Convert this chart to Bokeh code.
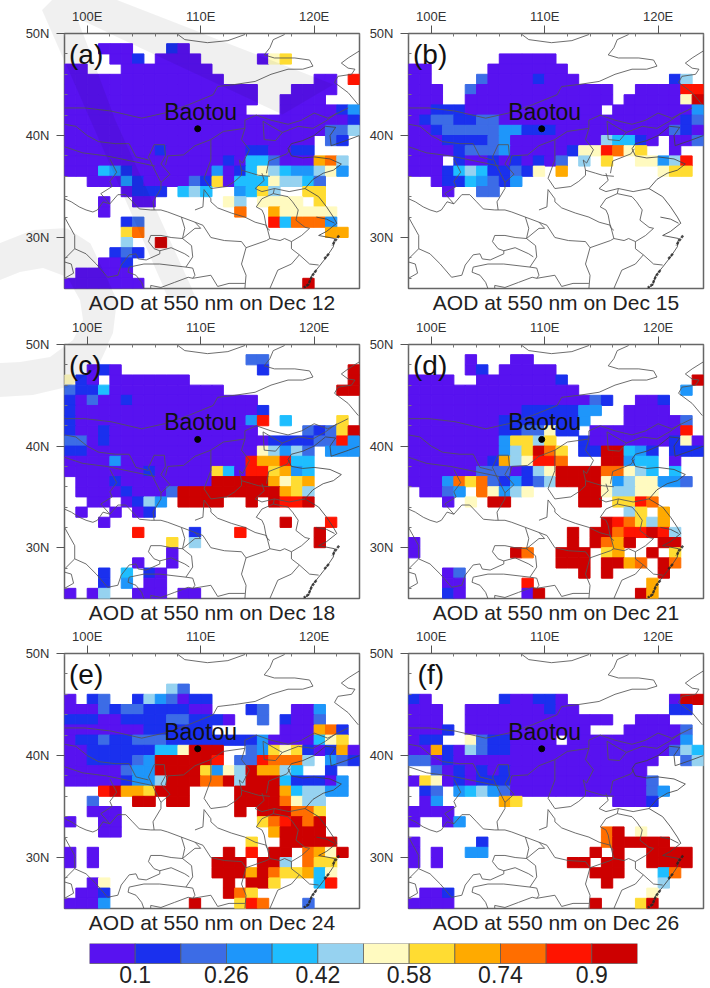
from urllib.parse import quote
from bokeh.plotting import figure
from bokeh.layouts import column, row
from bokeh.models import FixedTicker, Label, PolyAnnotation, ColumnDataSource
from bokeh.embed import file_html
from bokeh.resources import INLINE

FONT = "Liberation Sans"
LEVELS = [0.06, 0.14, 0.22, 0.30, 0.38, 0.46, 0.54, 0.62, 0.70, 0.78, 0.86, 0.94]
EDGES = [0.02, 0.1, 0.18, 0.26, 0.34, 0.42, 0.5, 0.58, 0.66, 0.74, 0.82, 0.9, 0.98]
COLORS = ["#5812f0", "#1a30ee", "#3c6ce6", "#1e96fa", "#1ebeff", "#96d2f0",
          "#fffac0", "#ffdc32", "#ffaa00", "#ff6e00", "#ff1400", "#cd0000"]
CODES = "ABCDEFGHIJKL"
CB_TICKS = [0.1, 0.26, 0.42, 0.58, 0.74, 0.9]
CB_LABELS = ["0.1", "0.26", "0.42", "0.58", "0.74", "0.9"]
LON_MIN, LON_MAX, LAT_MIN, LAT_MAX = 98, 124, 25, 50
BAOTOU_LON, BAOTOU_LAT = 109.74, 40.66

# Each row runs north to south from 50N, one row per degree. "3-5A" = columns 3..5 (from 98E) at level A.
PANEL_A = ["", "3-5A 9B 10A", "4-5A 6B 8-11A 17A 18G 19H", "0-1A 5-12A", "0-13A 22-23A 25K",
           "0-16A 20-23A", "0-16A 19-22A", "0-15A 19-23A 24B 25D", "0-24A 25B", "0-22A 23-24C 25F",
           "0-21A 23C 24B", "0-7A 8B 9-15A 16-17B 18-19A 20-21B",
           "0-13A 14B 15A 16-17E 18C 19-21A 22I 23J 24F",
           "0-2A 3E 4D 5B 6-12A 13D 14A 15B 16E 17G 18F 19E 20-21D 22F 23G 24D",
           "2-4A 5D 6B 7-10A 11C 12B 13H 14A 15-17E 18G 19-20F 21E 22C",
           "5A 6-8B 10E 11F 12E 15D 16E 17H 18F 21-22H", "3A 6-7A 14G 15F 17-20G 22H",
           "3A 15J 18I 19-23G", "5B 6C 18K 19E 20-22J 23D", "5H 6J 23-24I", "5F 8L", "4B 5C 6B",
           "3-4A 5B", "1-5A", "0-6A 21L"]
PANEL_B = ["", "", "8-12A", "0-1A 7-13A", "0-1A 6C 7-10A 11B 12-14A 23B 24F",
           "0-2A 5C 6-17A 20-23A 24-25K", "0-2A 5-17A 19-23A 24G 25L",
           "0-1A 2-4B 5-16A 18-24A 25D", "0A 1B 2-3C 4-5B 6-7C 8-23A 24B 25C",
           "0-1A 2B 3-7C 8-9D 10-12B 13-22A 23C 24B 25A",
           "0-2A 3-6B 7C 8D 9-16A 17F 18-19E 20B 21A 23-24A 25C",
           "0-3A 4B 5-7C 8D 9-13A 14B 15-16G 17K 18J 19G 20H 23A",
           "0-2A 4B 5-6A 7B 8A 9B 10A 11B 12A 13C 15F 17H 20-21G 22D 23F 24K",
           "0-2A 3B 4E 5F 6E 7-8B 9C 10B 11G 13I 22G 23-24H", "2A 3-4B 5E 6D 7C 8B 9D",
           "3A 6-7C", "", "", "", "", "", "", "", "", ""]
PANEL_C = ["", "16-17C", "2A 3B 4A 17B 25L", "0G 1B 2A 4-10A 25L", "0C 1-2B 3E 4-13A 24-25L",
           "0B 1A 2C 3-4A 5B 6-16A", "0B 1-16A 17B", "0B 1-15A 16D 17K 19E 24H",
           "0B 1-2A 3B 4-16A 21C 22B 23C 24H 25L", "0-1C 2A 3B 4-17A 18-21B 22-23C 24K 25D",
           "0-1B 2-16A 17G 18F 19D 20F 21C 23-25D", "0-3A 4D 5-15A 16K 17-18I 19K 20-21E",
           "0-6A 7B 8-12A 13H 14E 15A 16-17K 18H 19I 20D 21E",
           "1-3A 4B 5-12A 13-17L 18I 19G 20H 21I", "1-4A 5B 6-8A 9C 10-18L 19I 20H 21F",
           "2-3A 5A 6B 7F 8D 10-13L 16L 18L 19-20K 21L", "1A 4A 6A 7B", "3A 19L 23K",
           "6K 11B 15K 22L", "9H 11F 22L", "9A", "6A 9A", "3B 5E 7B 8A", "3B 5D 7-8A",
           "0A 2A 3F 6-8A 10-11A"]
PANEL_D = ["", "5A 9-10A", "5A 6B 8-12A", "0-3A 6-12A 13B 25L", "0-14A 24D",
           "0-15A 16C 17B 20-21A 22B", "0-9A 10-14B 15-16D 19-22A", "0-7A 8-14B 15D 19-23A 24C",
           "0-7A 8-9B 10-11C 12G 13-14B 16-23A 24K", "0-7A 8D 9-10H 11F 12H 15B 16-22A 23B 24G 25A",
           "0-7A 8D 9F 10H 11L 12J 13H 15-16B 17-18L 19E 20D 21B 23-25B",
           "0-6A 7B 8I 9F 10G 11-12K 13J 17-18L 19D 20-21E 23A",
           "0-5A 6-8C 9A 10B 11F 12G 13-16L 17-18J 19G 20F 21E 23E",
           "0-2A 3D 4J 5H 6J 7C 8B 9D 10B 11C 12F 13-16L 17G 18D 19F 20-21G 22-23D 24C",
           "1-2A 3C 4D 6J 7G 8D 9F 10G 15-16L 17G 18-19F 20-21G", "3A 5G 7-8L 15-16L 18-19H 20K 21J",
           "19F 20H 22I", "17L 18K 19J 20H 21F 22I", "14L 16-17L 18J 19-20K 21L 22K 23F",
           "0A 14L 16L 17J 18I 19L 22-23L", "0A 9L 10J 13-15L 17H 18I 21L 23H",
           "13-15L 17-18L 19I 20J 22L 23J", "3A 4C 15L 17L 22L", "3-4A 10K 21I", "3B 4A 10A 11L 20L 21I"]
PANEL_E = ["", "", "", "9F 10C", "0A 2B 3C 6B 7F 8D 9C 10A 11-12B",
           "0-2A 3C 4B 5-6C 7-10B 11-12A 16B 17C 20-21A 22D",
           "0-2B 3-4A 5-8B 9-10C 11-13B 14A 17C 19B 20-21A 22C",
           "0-6A 7-12B 19-21A 22I 23J 24B", "0A 1-2B 3C 4-5B 6-8C 9-16B 17D 18-21A 22E 23G 24H",
           "0-1A 2-7B 8-9E 10G 11-13L 16C 17D 18H 19G 20H 21B 22A 23B 24I 25A",
           "0-1A 2-5B 6C 7D 8-12L 13K 15-16C 17K 18-20J 21F 23D 24C 25B",
           "0-4A 5C 6-7D 8-11L 12H 13D 14G 15F 16L 17-18I 19F 20E 23B",
           "0-4A 5B 6-7D 8F 9-11L 12-13J 14L 15F 16-18L 19E 20-22B 23A 24D",
           "3K 4L 5-6I 7H 8-10L 15-18L 19I 20E 21-22F 23-24D", "2C 6-7L 9-10L 15-18L 19J 20G 21-22F",
           "2-4A 15L 17-19L 20-21J 22H", "0A 3-4A 17H 18J 19K 20L 21J 22L", "3-4A 18I 19-22L",
           "16H 19-23L", "0A 2A 14L 16K 18-19L 21J 22I 23G 24L",
           "0A 2A 13-15L 17-18L 19F 21J 22-23H", "13-15L 16I 17L 18J 19-20H 21I 22E 23G",
           "2A 3G 14L 16-17L 18H 22E 23K", "1-2A 3B 14L 15J 16H", "0-2A 3D 11L 15H 16K 17J 21C"]
PANEL_F = ["", "", "", "", "0B 1A 8B 9-10A 11-12B 13A 23A 24-25L", "0-2A 5-11A 12B 13-14A 23-24B",
           "0-2A 5-17A 20-22A", "0-2A 3B 5-15A 19-23A 24C", "0A 1-2B 5G 6C 7-8B 9-12A 14-23A 24D",
           "0-1A 2I 3B 4A 5F 6C 7-8B 9-22A 23C 24F 25E", "0-1C 2A 3B 4-21A 24C 25F",
           "2C 3A 4B 5A 6B 7A 8B 9-20A", "0A 1H 2G 3A 4B 5A 6-8B 9-20A 21C",
           "1B 2C 4D 5E 6F 7D 8C 9-20A 21C 22D", "1A 2D 8I 9H 18-20A 21B", "0-3A", "0A 3A 4D",
           "17J 18L 20G", "0A 6B 17J 18-22L", "0A 2A 5-6D 16L 18L 21-24L",
           "0A 2A 14-15L 17-18L 21-24L", "16-18L 22E 23J", "17L 22F", "1-2A 3B 21G", "0-3A 16L 20H 21L"]
PANELS = [PANEL_A, PANEL_B, PANEL_C, PANEL_D, PANEL_E, PANEL_F]
LETTERS = ["(a)", "(b)", "(c)", "(d)", "(e)", "(f)"]
DATES = ["Dec 12", "Dec 15", "Dec 18", "Dec 21", "Dec 24", "Dec 26"]

# Map outlines, (lon, lat)
MAP_LINES = [
    [(108,49.9),(108.6,49.4),(110.6,49.1),(112.4,49.3),(113.9,49.9)],
    [(117.4,49.9),(116.4,49.4),(116.1,48.6),(115.6,47.9),(116.5,47.6),(118.3,47.6),(119.6,47.4),(119.9,46.8),(119,46.5),
     (117.7,46.5),(116.2,46),(114.8,45.3),(113,45),(111.5,44.8),(111.1,44),(108.9,43),(106.8,42.2),(104.8,41.7),(102.1,42.4),
     (99.8,42.7),(98,42.7)],
    [(124,48.3),(123,47.6),(122.4,47.1),(123,46.6),(123.6,46.5),(123.3,46),(122.1,45.8),(121.8,45.2),(123,44.2),(123.9,43)],
    [(113.9,41.5),(114.9,42),(116.2,41.5),(117.7,41.1),(118.9,41.5),(120,42.2),(121.2,41.7),(123,42.7)],
    [(113.9,41.5),(113.9,40.7),(113.6,39.6),(114.3,38.6),(113.7,37.3),(113.4,37.6),(113.6,36.6),(113.6,36.1),(113,35.5),
     (112.3,35),(110.9,34.8),(110.3,35.8),(110.9,37.6),(110.9,39.6),(112,40.4),(113.9,40.7)],
    [(115.5,41.4),(116.4,40.8),(117.2,40.3),(116.6,39.5),(115.6,39.6),(115.5,41.4)],
    [(117.2,40.3),(118.6,40.9),(119.9,40.7),(121,41.4),(122,42.2)],
    [(110.9,39.6),(109.5,39),(108.5,38.1),(107.1,38),(106.9,37.1)],
    [(105.9,39.1),(106.8,39.1),(106.9,38),(106.5,37.2),(107.3,36.2),(106.5,35.4),(106,36.5),(105.4,37.9),(105.9,39.1)],
    [(98,41.1),(99,40.9),(100,40),(101,39.4),(102.5,39.2),(103.7,39.2),(104.3,37.9),(105.4,37.6)],
    [(98,38.9),(99.6,38.3),(101.7,38),(104.3,37.4),(106,37)],
    [(102,35.5),(102.6,36.4),(102,37.7)],
    [(98,33.8),(98.6,33.5),(99.3,33),(99.9,32.7),(100.5,32.5),(100.9,32.7),(101.4,33.5),(102,33.3),(102.7,34.2),(103.4,34.2),
     (104,33.5),(104.6,32.8),(105.6,32.7),(106.5,32.7),(107.1,32.5),(108.3,32),(109.5,31.5),(110.2,31.2)],
    [(106.5,35.4),(106.5,34.8),(105.8,33.5),(105.9,32.7)],
    [(102,33.3),(101.2,34.3),(102.2,35),(102,35.5)],
    [(108.3,32),(108.6,30.9),(108.4,29.9),(109.2,29.2),(109.3,28.1),(108.7,27.1),(109.3,27),(109.5,26.3),(109.3,26)],
    [(109.5,31.5),(110,30.9),(109.5,30.9),(108.4,29.9)],
    [(108.4,29.9),(107.4,30),(106.5,30.2),(105.6,30.2),(105.4,29.6),(105.9,28.9),(106.4,28.7),(107.4,29),(108.6,28.4),(109,28.1)],
    [(98,32),(98.4,31.2),(98.9,30.2),(98.9,28.9),(99.9,28.4),(100.8,27.4),(101.8,26.1),(102.7,26.3),(103,27.3),(103.7,28.3),
     (104.3,28.4),(104.5,27.9),(105.2,27.8),(106.4,28.4),(106.4,28.7)],
    [(98,27.6),(98.6,27.4),(98.8,26.5),(98,26)],
    [(98.9,28.9),(98,27.9)],
    [(103.7,27.1),(103.6,26.6),(104.3,26.3),(104.8,25.6),(105,25)],
    [(103.7,27.1),(105,27.4),(106.4,27.4),(108.7,27.1)],
    [(105.6,25),(105.6,25.3),(106.5,25.1),(107.7,25.6),(108.9,26.1),(109.3,26),(110.9,26.3),(111.5,25.2),(112.5,25.5),(113.9,25.5)],
    [(109.5,32.7),(110.2,33),(110.3,34.7),(110.9,33.8),(110.9,33.5),(111.5,32.9),(112.7,32.4),(113.9,32),(114.8,31.5),(115.8,31.2),
     (116.1,29.9)],
    [(113.6,36.6),(114.5,36.3),(115.1,36.1),(116.1,36)],
    [(115.4,36.3),(115.6,35.6),(114.8,34.8),(115.4,34.5),(116.5,34.8),(116.4,34.3),(117.7,34),(118.1,33.5),(118.6,32.7),(118.4,31.7),
     (119.2,31),(119.6,30.9)],
    [(116.5,34.8),(117.8,34.5),(119.2,34.8)],
    [(116.4,34.3),(115.4,33.8),(114.9,33),(115.4,32.7),(115.6,32.2),(115.8,31),(116.1,30.7)],
    [(116.1,29.9),(117,29.7),(117.4,29.9),(118,29.6),(118.9,30.2),(119.6,30.9)],
    [(110.2,31.2),(110.9,30),(112.1,29.7),(113.6,29.6),(114,29),(115.8,29.7),(116.1,29.9)],
    [(114,29),(113.6,27.4),(114,26.3),(113.9,25)],
    [(118,29.6),(118,28.9),(118.7,28.3),(119.6,27.4),(120.4,27.3)],
    [(116.1,25),(116.8,26.8),(118,27.4),(118.7,28.3)],
    [(115.8,36.3),(116,37.5),(117.6,38.2),(117.9,38.7)],
]
COAST_LINES = [
    [(124,40),(122.8,39.5),(121.5,39),(121.4,40),(121.9,40.8),(121,40.9),(120,40),(119,39.5),(118,39.2),(117.7,38.7),(118,38),
     (119,37.8),(120,37.9),(121.4,37.7),(122.4,37.2),(121.7,36.6),(120.8,36.3),(119.9,35.7),(119.2,34.8),(120.4,34),(121.1,33),
     (121.7,32),(122,31.4),(121.1,30.6),(120.4,30.2),(121.8,29.9),(121.7,29.1),(121.1,28.1),(120.4,27.1),(119.8,26.3),(119.5,25.3),(119,25)],
    [(120.2,32),(121.1,31.8),(121.8,31.4)],
]
COAST_DARK = [
    [(122.2,30.2),(121.8,29.6),(121.6,29.2)],
    [(121.3,28.4),(120.9,27.9)],
    [(120.2,26.8),(119.8,26.2),(119.5,25.4),(119.1,25.1)],
]

# Decoration over the whole page: the pale swoosh, in page pixels.
SWOOSH_A = [(42,10),(52,0),(117,0),(333,84),(282,114),(77,18),(115,120),(196,298),(168,298)]
SWOOSH_B = [(0,243),(33,230),(67,228),(90,243),(117,300),(113,333),(97,367),(67,387),(33,395),(0,397),
            (0,363),(20,362),(50,357),(73,340),(83,320),(80,300),(67,277),(43,268),(20,272),(0,280)]


def parse_panel(rows):
    left, right, top, bottom, val, col = [], [], [], [], [], []
    for r, txt in enumerate(rows):
        for tok in txt.split():
            code = tok[-1]
            span = tok[:-1].split("-")
            c0, c1 = int(span[0]), int(span[-1])
            idx = CODES.index(code)
            for c in range(c0, c1 + 1):
                left.append(LON_MIN + c); right.append(LON_MIN + c + 1)
                top.append(LAT_MAX - r); bottom.append(LAT_MAX - r - 1)
                val.append(LEVELS[idx]); col.append(COLORS[idx])
    return ColumnDataSource(dict(left=left, right=right, top=top, bottom=bottom, aod=val, color=col))


def add_swoosh(p, fx, fy):
    for poly in (SWOOSH_A, SWOOSH_B):
        p.add_layout(PolyAnnotation(xs=[x - fx for x, y in poly], ys=[y - fy for x, y in poly],
                                    xs_units="canvas", ys_units="canvas", fill_color="black", fill_alpha=0.06,
                                    line_color=None, level="overlay"))


def panel(i, width, height, bl, br, bt, bb, fx, fy):
    p = figure(width=width, height=height, x_range=(LON_MIN, LON_MAX), y_range=(LAT_MIN, LAT_MAX),
               min_border_left=bl, min_border_right=br, min_border_top=bt, min_border_bottom=bb,
               x_axis_location="above", y_axis_location="left", toolbar_location=None, tools="",
               output_backend="svg", title=f"AOD at 550 nm on {DATES[i]}", title_location="below",
               outline_line_color="#666666", outline_line_width=1.5, border_fill_color=None,
               background_fill_color="white")
    p.title.align = "center"
    p.title.text_font = FONT
    p.title.text_font_size = "21px"
    p.title.text_font_style = "normal"
    p.title.text_color = "#222222"
    p.title.standoff = 0
    p.grid.visible = False
    p.quad(left="left", right="right", top="top", bottom="bottom", fill_color="color", line_color="color",
           line_width=1, source=parse_panel(PANELS[i]))
    for ln in MAP_LINES:
        p.line([a for a, b in ln], [b for a, b in ln], line_color="#555555", line_width=1, line_alpha=0.85)
    for ln in COAST_LINES:
        p.line([a for a, b in ln], [b for a, b in ln], line_color="#444444", line_width=1, line_alpha=0.85)
    for ln in COAST_DARK:
        p.line([a for a, b in ln], [b for a, b in ln], line_color="#222222", line_width=2.4, line_alpha=0.8, line_dash="3 1")
    p.scatter([BAOTOU_LON], [BAOTOU_LAT], size=6, color="black")
    p.add_layout(Label(x=110, y=42.33, text="Baotou", text_align="center", text_baseline="middle",
                       text_font=FONT, text_font_size="23px", text_color="#111111"))
    lx = 98.8 if i == 5 else 98.4
    p.add_layout(Label(x=lx, y=47.9, text=LETTERS[i], text_align="left", text_baseline="middle",
                       text_font=FONT, text_font_size="28px", text_color="#111111"))
    xa, ya = p.xaxis[0], p.yaxis[0]
    xa.ticker = FixedTicker(ticks=[100, 110, 120], minor_ticks=[98, 102, 104, 106, 108, 112, 114, 116, 118, 122, 124])
    ya.ticker = FixedTicker(ticks=[30, 40, 50], minor_ticks=[26, 28, 32, 34, 36, 38, 42, 44, 46, 48])
    xa.major_label_overrides = {100: "100E", 110: "110E", 120: "120E"}
    ya.major_label_overrides = {30: "30N", 40: "40N", 50: "50N"}
    for ax, st in ((xa, 2), (ya, 7)):
        ax.axis_line_color = None
        ax.major_tick_out = 8; ax.major_tick_in = 0
        ax.minor_tick_out = 0; ax.minor_tick_in = 3
        ax.major_tick_line_color = "#555555"; ax.minor_tick_line_color = "#777777"
        ax.major_label_text_font = FONT
        ax.major_label_text_font_size = "13px"
        ax.major_label_text_color = "#333333"
        ax.major_label_standoff = st
    ya.major_label_orientation = "horizontal"
    add_swoosh(p, fx, fy)
    return p


# figure widths/heights and borders
LW, RW = 362, 348
a = panel(0, LW, 315, 64, 3, 33, 27, 0, 0)
b = panel(1, RW, 315, 46, 7, 33, 27, 362, 0)
c = panel(2, LW, 310, 64, 3, 29, 27, 0, 315)
d = panel(3, RW, 310, 46, 7, 29, 27, 362, 315)
e = panel(4, LW, 310, 64, 3, 28, 27, 0, 625)
f = panel(5, RW, 310, 46, 7, 28, 27, 362, 625)

# The colour bar's frame runs on below the boxes, so that their labels lie inside it.
cb = figure(width=710, height=53, x_range=(EDGES[0], EDGES[-1]), y_range=(-1.25, 1), min_border_left=89, min_border_right=73,
            min_border_top=8, min_border_bottom=0, toolbar_location=None, tools="", output_backend="svg",
            outline_line_color=None, border_fill_color=None, background_fill_color=None)
cb.quad(left=EDGES[:-1], right=EDGES[1:], bottom=0, top=1, fill_color=COLORS, line_color="#555555", line_width=1, line_alpha=0.7)
cb.grid.visible = False
cb.xaxis.visible = False
cb.yaxis.visible = False
for tick, lab in zip(CB_TICKS, CB_LABELS):
    cb.add_layout(Label(x=tick, y=-0.55, text=lab, text_align="center", text_baseline="middle",
                        text_font=FONT, text_font_size="23px", text_color="#222222"))


def swoosh_svg():
    polys = "".join("<polygon fill='black' fill-opacity='0.06' points='%s'/>" % " ".join(f"{x},{y}" for x, y in poly)
                    for poly in (SWOOSH_A, SWOOSH_B))
    return "<svg xmlns='http://www.w3.org/2000/svg' width='710' height='988'>" + polys + "</svg>"


page = column(row(a, b), row(c, d), row(e, f), cb)
page.styles = {"background-image": 'url("data:image/svg+xml,%s")' % quote(swoosh_svg()), "background-repeat": "no-repeat"}
open("out.html", "w").write(file_html(page, INLINE))
